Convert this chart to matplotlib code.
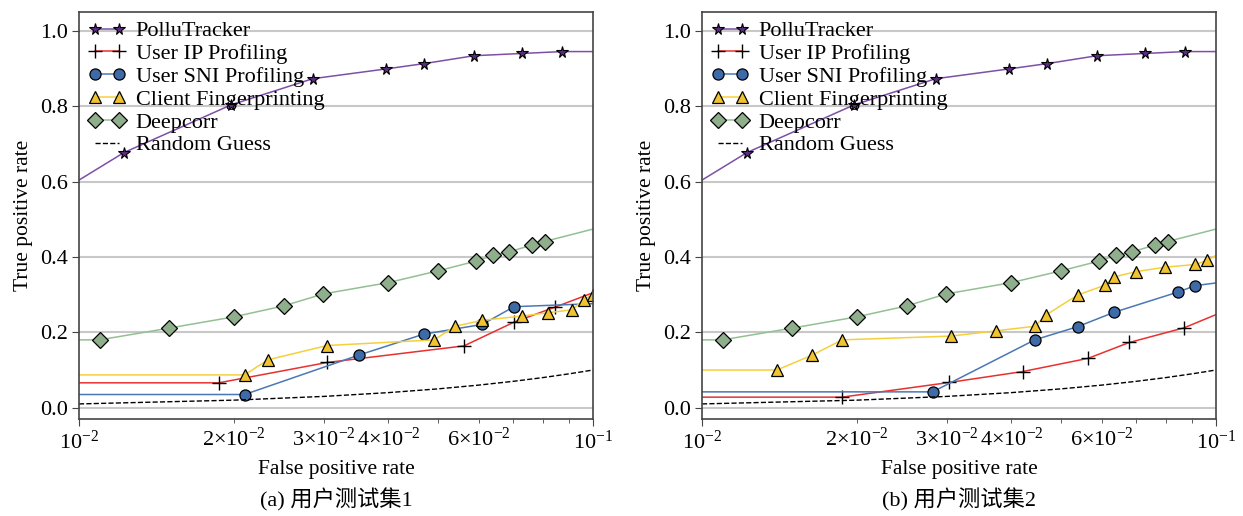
import math
import matplotlib
matplotlib.use("Agg")
import matplotlib.pyplot as plt
from matplotlib.ticker import FuncFormatter

plt.rcParams['font.family'] = ['Liberation Serif', 'Noto Sans CJK SC']
plt.rcParams['mathtext.fontset'] = 'stix'
plt.rcParams['mathtext.default'] = 'regular'

series_names = ["PolluTracker", "User IP Profiling", "User SNI Profiling",
                "Client Fingerprinting", "Deepcorr", "Random Guess"]
captions = ["(a) 用户测试集1", "(b) 用户测试集2"]
labeled_minor_coeffs = [2, 3, 4, 6]

# PolluTracker (same in both panels)
poll_fpr = [0.01, 0.01223, 0.0198, 0.0285, 0.0396, 0.0469, 0.0587, 0.0728, 0.0871, 0.1]
poll_tpr = [0.604, 0.677, 0.804, 0.873, 0.899, 0.913, 0.934, 0.940, 0.945, 0.945]

# Deepcorr (same in both panels)
dc_fpr = [0.01, 0.01097, 0.01495, 0.0200, 0.0250, 0.0299, 0.0400, 0.0499, 0.0592,
          0.0638, 0.0685, 0.0762, 0.0805, 0.1]
dc_tpr = [0.180, 0.180, 0.211, 0.241, 0.270, 0.302, 0.332, 0.363, 0.389,
          0.404, 0.413, 0.432, 0.441, 0.474]

# Random guess
rg_fpr = [0.01, 0.02, 0.03, 0.04, 0.05, 0.06, 0.07, 0.08, 0.09, 0.1]
rg_tpr = [0.01, 0.02, 0.03, 0.04, 0.05, 0.06, 0.07, 0.08, 0.09, 0.1]

# Panel (a)
ip1_fpr = [0.01, 0.0187, 0.0304, 0.0561, 0.0702, 0.0844, 0.1]
ip1_tpr = [0.066, 0.066, 0.120, 0.164, 0.227, 0.267, 0.305]
sni1_fpr = [0.01, 0.0210, 0.0351, 0.0468, 0.0609, 0.0702, 0.1]
sni1_tpr = [0.035, 0.035, 0.140, 0.195, 0.221, 0.268, 0.276]
cf1_fpr = [0.01, 0.0210, 0.0233, 0.0304, 0.0491, 0.0539, 0.0609, 0.0726, 0.0818,
           0.0912, 0.0959, 0.1]
cf1_tpr = [0.087, 0.087, 0.127, 0.165, 0.180, 0.216, 0.232, 0.243, 0.252,
           0.260, 0.287, 0.300]

# Panel (b)
ip2_fpr = [0.01, 0.01873, 0.0303, 0.0421, 0.0564, 0.0678, 0.0867, 0.1]
ip2_tpr = [0.028, 0.028, 0.067, 0.096, 0.131, 0.173, 0.212, 0.247]
sni2_fpr = [0.01, 0.0281, 0.0444, 0.0538, 0.0633, 0.0844, 0.0912, 0.1]
sni2_tpr = [0.042, 0.042, 0.180, 0.215, 0.253, 0.307, 0.324, 0.331]
cf2_fpr = [0.01, 0.01398, 0.01636, 0.01873, 0.0305, 0.0373, 0.0444, 0.0467, 0.0538,
           0.0608, 0.0633, 0.0699, 0.0796, 0.0912, 0.0961, 0.1]
cf2_tpr = [0.100, 0.100, 0.139, 0.180, 0.190, 0.204, 0.216, 0.246, 0.299,
           0.325, 0.347, 0.361, 0.373, 0.380, 0.391, 0.404]

panels = [
    (ip1_fpr, ip1_tpr, sni1_fpr, sni1_tpr, cf1_fpr, cf1_tpr, True),
    (ip2_fpr, ip2_tpr, sni2_fpr, sni2_tpr, cf2_fpr, cf2_tpr, False),
]


def major_fmt(v, pos):
    e = int(round(math.log10(v)))
    return '10$^{%d}$' % e


def minor_fmt(v, pos):
    e = int(math.floor(math.log10(v) + 1e-9))
    c = int(round(v / 10 ** e))
    if c in labeled_minor_coeffs:
        return '%d×10$^{%d}$' % (c, e)
    return ''


W, H = 1243, 516
fig = plt.figure(figsize=(W / 100, H / 100), dpi=100)
axes_px = [(79, 12, 514, 407), (702, 12, 514, 407)]

for (ipf, ipt, snf, snt, cff, cft, cf_last_marked), (x0, y0, w, h), cap in zip(panels, axes_px, captions):
    ax = fig.add_axes([x0 / W, 1 - (y0 + h) / H, w / W, h / H])
    ax.plot(poll_fpr, poll_tpr, color='#7d4fa6', lw=1.1, marker='*', ms=8.5,
            mfc='#5b2c83', mec='black', mew=0.8,
            markevery=list(range(1, len(poll_fpr) - 1)), label=series_names[0])
    ax.plot(ipf, ipt, color='#e8312f', lw=1.1, marker='+', ms=10,
            mec='black', mew=1.0,
            markevery=list(range(1, len(ipf) - 1)), label=series_names[1])
    ax.plot(snf, snt, color='#4a78b5', lw=1.1, marker='o', ms=8,
            mfc='#3e6aa8', mec='black', mew=0.9,
            markevery=list(range(1, len(snf) - 1)), label=series_names[2])
    cf_me = list(range(1, len(cff))) if cf_last_marked else list(range(1, len(cff) - 1))
    ax.plot(cff, cft, color='#f5cf3c', lw=1.1, marker='^', ms=8.5,
            mfc='#f0c330', mec='black', mew=0.9,
            markevery=cf_me, label=series_names[3])
    ax.plot(dc_fpr, dc_tpr, color='#93c093', lw=1.1, marker='D', ms=8,
            mfc='#8fae8c', mec='black', mew=0.9,
            markevery=list(range(1, len(dc_fpr) - 1)), label=series_names[4])
    ax.plot(rg_fpr, rg_tpr, color='black', lw=1.0, ls='--', label=series_names[5])

    ax.set_xscale('log')
    ax.set_xlim(0.01, 0.1)
    ax.set_ylim(-0.03, 1.05)
    ax.set_yticks([0.0, 0.2, 0.4, 0.6, 0.8, 1.0])
    ax.xaxis.set_major_formatter(FuncFormatter(major_fmt))
    ax.xaxis.set_minor_formatter(FuncFormatter(minor_fmt))
    ax.yaxis.grid(True, color='#c8c8c8', lw=1.5)
    ax.set_axisbelow(True)
    ax.tick_params(axis='both', which='major', labelsize=16, direction='out', length=5,
                   color='#444444', pad=3)
    ax.tick_params(axis='x', which='minor', direction='out', length=3, color='#444444',
                   labelsize=16, pad=3)
    for s in ax.spines.values():
        s.set_color('#444444')
        s.set_linewidth(1.2)
    ax.set_xlabel('False positive rate', fontsize=15.5, labelpad=5)
    ax.set_ylabel('True positive rate', fontsize=15.5, labelpad=5)
    ax.legend(loc='upper left', frameon=False, numpoints=2, fontsize=16,
              handlelength=1.7, handletextpad=0.45, labelspacing=0.1,
              borderaxespad=0.15, borderpad=0.25)
    fig.text((x0 + w / 2) / W, 1 - 500 / H, cap, ha='center', va='center', fontsize=16)

fig.savefig('out.png', dpi=100)
